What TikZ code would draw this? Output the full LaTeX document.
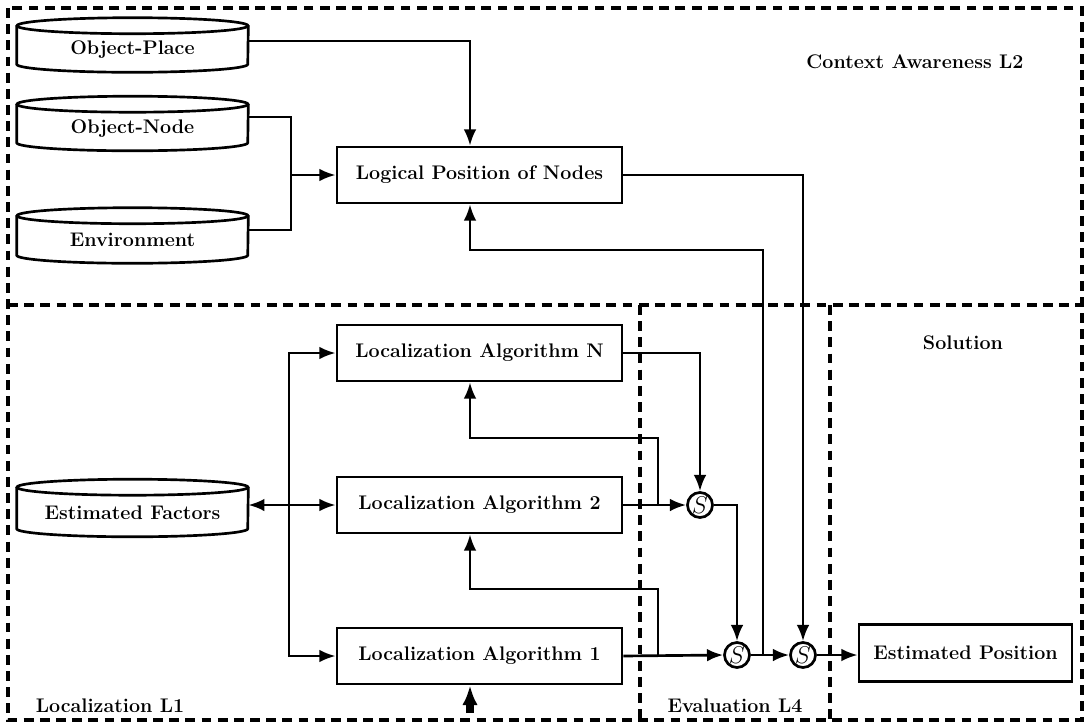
\documentclass[tikz,border=0pt]{standalone}
\usetikzlibrary{arrows.meta,calc}
\newcommand\DrawDb[5]{% name, x, y, height(cm), text
  \node[dbnode,minimum height=#4] (#1) at (#2,#3) {};
  \draw[dbline] ([yshift=-0.2cm]#1.north west) -- ([yshift=0.2cm]#1.south west)
    arc[start angle=180,end angle=360,x radius=2.8875cm,y radius=0.2cm]
    -- ([yshift=-0.2cm]#1.north east);
  \draw[dbline] ([yshift=-0.2cm]#1.north) ellipse[x radius=2.8875cm,y radius=0.2cm];
  \node (#1-t) at ([yshift=-0.12cm]#1.center) {#5};
}
\begin{document}
\begin{tikzpicture}[x=0.025cm,y=0.025cm,
  every node/.style={font=\fontsize{14}{16}\selectfont\bfseries},
  box/.style={draw,line width=1.9pt,minimum width=7.125cm,minimum height=1.4cm,inner sep=0pt},
  dbnode/.style={draw=none,minimum width=5.775cm,inner sep=0pt},
  dbline/.style={line width=1.9pt},
  sumnode/.style={draw,circle,line width=1.9pt,minimum size=0.625cm,inner sep=0pt,font=\fontsize{17}{18}\selectfont},
  frame/.style={line width=2.3pt,dash pattern=on 7pt off 4.5pt},
  wire/.style={line width=1.9pt},
  arr/.style={wire,-{Latex[length=11.5pt,width=9pt]}},
  arrtwo/.style={wire,{Latex[length=11.5pt,width=9pt]}-{Latex[length=11.5pt,width=9pt]}},
  lbl/.style={}
]
\useasboundingbox (0,0) rectangle (1087,-725);

% frames
\draw[frame] (8,-8) rectangle (1082,-720);
\draw[frame] (8,-305) -- (1082,-305);
\draw[frame] (640,-305) -- (640,-720);
\draw[frame] (830,-305) -- (830,-720);

% labels
\node[lbl] (lctx) at (915,-62) {Context Awareness L2};
\node[lbl] (lsol) at (963,-343) {Solution};
\node[lbl] (lloc) at (110,-706) {Localization L1};
\node[lbl] (leva) at (735,-706) {Evaluation L4};

% databases
\DrawDb{op}{132.5}{-45}{1.35cm}{Object-Place}
\DrawDb{on}{132.5}{-123.5}{1.35cm}{Object-Node}
\DrawDb{env}{132.5}{-235.5}{1.375cm}{Environment}
\DrawDb{ef}{132.5}{-508}{1.425cm}{Estimated Factors}

% boxes
\node[box] (lp) at (479.5,-175) {Logical Position of Nodes};
\node[box] (aN) at (479.5,-353) {Localization Algorithm N};
\node[box] (a2) at (479.5,-505) {Localization Algorithm 2};
\node[box] (a1) at (479.5,-656) {Localization Algorithm 1};
\node[box,minimum width=5.325cm,minimum height=1.425cm] (ep) at (965.5,-653) {Estimated Position};

% sum nodes
\node[sumnode] (s1) at (700,-505) {$S$};
\node[sumnode] (s2) at (737,-655) {$S$};
\node[sumnode] (s3) at (803,-655) {$S$};

% helper coordinates
\coordinate (j) at (291,-175);
\coordinate (k) at (289,-505);
\coordinate (lpin) at ($(lp.north)+(-9.5,0)$);
\coordinate (lpfb) at ($(lp.south)+(-9.5,0)$);
\coordinate (aNfb) at ($(aN.south)+(-9.5,0)$);
\coordinate (a2fb) at ($(a2.south)+(-9.5,0)$);
\coordinate (a1fb) at ($(a1.south)+(-9.5,0)$);
\coordinate (b1) at (658,-505);
\coordinate (b2) at (658,-655);
\coordinate (b3) at (763,-655);
\coordinate (stub) at (470,-713);

% context awareness connections
\draw[arr] (op.east |- 0,-41) -| (lpin);
\draw[wire] (on.east |- 0,-117) -| (j);
\draw[wire] (env.east |- 0,-230) -| (j);
\draw[arr] (j) -- (j -| lp.west);
\draw[arr] (lp.east) -| (s3.north);
\draw[arr] (b3) -- (763,-250) -| (lpfb);

% localization inputs
\draw[arrtwo] (ef.east |- k) -- (a2.west);
\draw[arr] (k) |- (aN.west);
\draw[arr] (k) |- (a1.west);
\draw[-{Latex[length=14pt,width=11pt]},line width=5pt] (stub) -- (a1fb);

% feedback
\draw[arr] (b1) -- (658,-438) -| (aNfb);
\draw[arr] (b2) -- (658,-589) -| (a2fb);

% evaluation
\draw[arr] (aN.east) -| (s1.north);
\draw[arr] (a2.east) -- (s1.west);
\draw[arr] (s1.east) -| (s2.north);
\draw[arr] (a1.east) -- (s2.west);
\draw[arr] (s2.east) -- (s3.west);
\draw[arr] (s3.east) -- (s3.east -| ep.west);
\end{tikzpicture}
\end{document}
